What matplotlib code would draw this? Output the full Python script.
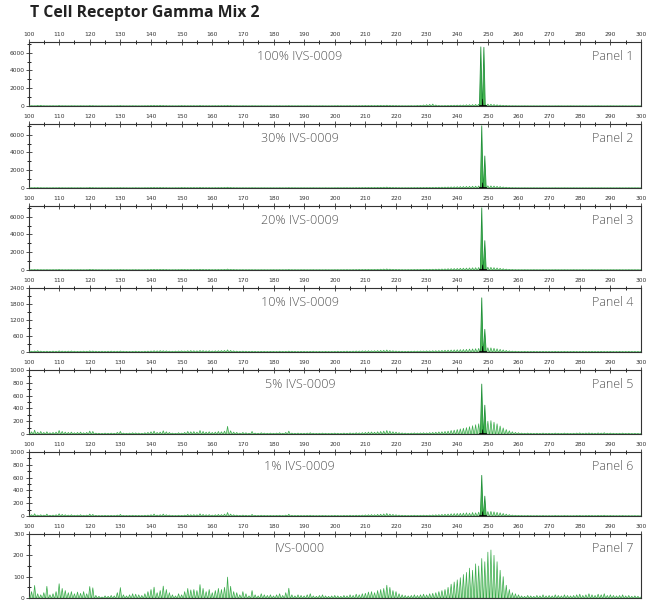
import numpy as np
import matplotlib.pyplot as plt
from matplotlib.ticker import MultipleLocator

title = "T Cell Receptor Gamma Mix 2"
samples = ["100% IVS-0009", "30% IVS-0009", "20% IVS-0009", "10% IVS-0009",
           "5% IVS-0009", "1% IVS-0009", "IVS-0000"]
panel_names = ["Panel 1", "Panel 2", "Panel 3", "Panel 4", "Panel 5", "Panel 6", "Panel 7"]

# y range and tick steps (RFU) of each panel
y_max = [7200, 7200, 7200, 2400, 1000, 1000, 300]
y_major = [2000, 2000, 2000, 600, 200, 200, 100]
y_minor = [1000, 1000, 1000, 300, 100, 100, 50]

# clonal peaks: size (bp) and height (RFU)
clone_pos = [[247.7, 248.7], [248.0, 249.0], [248.0, 249.0], [248.0, 249.0],
             [248.0, 249.0], [248.0, 249.0], []]
clone_height = [[6650, 6600], [7000, 3600], [7000, 3300], [2030, 850],
                [780, 450], [635, 310], []]
# black size-marker trace at the clonal peak base
marker_pos = 248.3
marker_height = [800, 600, 600, 220, 70, 70, 0]

# background peaks, one value per bp from 100 to 300
sizes = np.arange(100, 301)

bg_1 = [40, 30, 20, 60, 80, 30, 20, 25, 30, 20, 60, 30, 25, 20, 30, 25, 20, 30, 25, 20,
        50, 40, 20, 15, 20, 15, 20, 25, 20, 30, 50, 25, 20, 25, 30, 25, 20, 25, 30, 40,
        60, 70, 50, 80, 60, 40, 30, 25, 20, 30, 50, 40, 30, 35, 40, 30, 60, 40, 30, 35,
        30, 35, 40, 45, 50, 70, 50, 30, 25, 20, 30, 25, 20, 30, 25, 20, 25, 20, 20, 25,
        20, 25, 30, 20, 25, 40, 25, 20, 25, 20, 20, 25, 30, 20, 20, 25, 30, 20, 20, 25,
        30, 40, 30, 25, 30, 40, 30, 35, 40, 50, 60, 55, 60, 50, 70, 80, 70, 90, 70, 60,
        50, 40, 30, 25, 30, 40, 30, 60, 80, 120, 150, 180, 220, 120, 60, 40, 50, 60, 80, 90,
        100, 110, 120, 140, 150, 160, 180, 200, 200, 200, 220, 200, 170, 140, 110, 80, 60, 40, 30, 25,
        20, 20, 25, 20, 15, 20, 15, 20, 25, 20, 20, 15, 20, 25, 20, 15, 20, 25, 20, 15,
        20, 25, 20, 15, 20, 25, 30, 20, 15, 20, 25, 20, 15, 20, 25, 20, 15, 20, 25, 20, 15]

bg_2 = [30, 25, 40, 50, 30, 20, 25, 20, 30, 25, 40, 30, 20, 25, 30, 20, 25, 30, 20, 25,
        60, 40, 25, 20, 25, 20, 25, 30, 25, 30, 40, 30, 25, 20, 25, 30, 25, 20, 30, 35,
        50, 60, 45, 60, 50, 40, 30, 25, 30, 35, 60, 50, 40, 45, 50, 40, 70, 50, 40, 45,
        35, 40, 45, 50, 60, 90, 60, 40, 30, 25, 30, 25, 25, 30, 25, 20, 25, 25, 20, 25,
        25, 20, 30, 25, 25, 40, 30, 25, 20, 25, 25, 20, 25, 30, 20, 25, 20, 25, 20, 20,
        25, 30, 25, 30, 35, 30, 35, 40, 45, 50, 55, 60, 55, 60, 70, 80, 90, 110, 80, 60,
        50, 40, 35, 30, 35, 40, 45, 50, 55, 60, 65, 70, 75, 80, 90, 100, 110, 120, 130, 140,
        150, 160, 170, 180, 190, 200, 210, 230, 240, 240, 250, 240, 220, 190, 160, 120, 90, 60, 40, 30,
        25, 20, 25, 20, 20, 25, 20, 20, 25, 20, 20, 20, 25, 20, 20, 25, 20, 20, 25, 20,
        20, 25, 20, 20, 25, 20, 20, 25, 20, 20, 25, 20, 20, 25, 20, 20, 25, 20, 20, 20, 15]

bg_3 = [35, 30, 50, 45, 30, 25, 30, 25, 30, 30, 50, 35, 25, 30, 35, 25, 30, 35, 25, 30,
        70, 50, 30, 25, 30, 25, 30, 35, 30, 35, 50, 35, 30, 25, 30, 35, 30, 25, 35, 40,
        60, 70, 55, 70, 60, 50, 35, 30, 35, 40, 70, 60, 50, 55, 60, 50, 80, 60, 50, 55,
        40, 45, 50, 55, 70, 110, 70, 50, 35, 30, 35, 30, 30, 35, 30, 25, 30, 30, 25, 30,
        30, 25, 35, 30, 30, 50, 35, 30, 25, 30, 30, 25, 30, 35, 25, 30, 25, 30, 25, 25,
        30, 35, 30, 35, 40, 35, 40, 45, 55, 60, 65, 70, 65, 70, 80, 95, 110, 130, 100, 70,
        60, 50, 40, 35, 40, 45, 55, 60, 65, 70, 80, 85, 90, 100, 110, 120, 130, 150, 160, 170,
        180, 200, 210, 220, 240, 250, 260, 280, 300, 300, 310, 300, 270, 230, 190, 150, 110, 70, 50, 35,
        30, 25, 30, 25, 25, 30, 25, 25, 30, 25, 25, 25, 30, 25, 25, 30, 25, 25, 30, 25,
        25, 30, 25, 25, 30, 25, 25, 30, 25, 25, 30, 25, 25, 30, 25, 25, 30, 25, 25, 25, 20]

bg_4 = [25, 30, 40, 50, 35, 25, 30, 25, 35, 30, 45, 35, 30, 35, 40, 30, 25, 30, 35, 30,
        45, 40, 30, 25, 30, 25, 30, 35, 30, 30, 40, 30, 25, 20, 25, 30, 25, 20, 30, 35,
        40, 50, 45, 55, 50, 45, 35, 30, 35, 40, 45, 40, 50, 55, 50, 45, 60, 55, 45, 50,
        40, 45, 50, 55, 60, 80, 60, 45, 35, 30, 35, 30, 25, 30, 25, 20, 25, 25, 20, 25,
        25, 20, 30, 25, 25, 35, 30, 25, 20, 25, 25, 20, 25, 30, 20, 25, 20, 25, 20, 20,
        25, 30, 25, 30, 35, 30, 35, 40, 40, 45, 45, 50, 45, 50, 55, 60, 65, 75, 60, 50,
        40, 35, 30, 25, 30, 30, 35, 35, 40, 40, 45, 45, 50, 50, 55, 60, 65, 70, 75, 80,
        85, 90, 95, 100, 110, 115, 125, 135, 140, 145, 160, 155, 140, 120, 100, 80, 60, 45, 35, 30,
        25, 20, 25, 20, 20, 25, 20, 20, 25, 20, 20, 20, 25, 20, 20, 25, 20, 20, 25, 20,
        20, 25, 20, 20, 25, 20, 20, 25, 20, 20, 25, 20, 20, 25, 20, 20, 25, 20, 20, 20, 15]

bg_5 = [20, 35, 60, 30, 40, 25, 35, 20, 25, 30, 55, 40, 30, 25, 30, 20, 25, 30, 20, 25,
        45, 40, 15, 12, 10, 15, 12, 15, 12, 25, 40, 15, 12, 15, 20, 18, 15, 12, 20, 25,
        35, 45, 25, 30, 50, 35, 25, 15, 12, 20, 15, 25, 40, 35, 38, 30, 55, 40, 30, 35,
        25, 30, 40, 35, 45, 120, 50, 30, 25, 15, 25, 20, 12, 40, 15, 12, 20, 15, 12, 15,
        12, 15, 20, 12, 25, 45, 15, 12, 15, 12, 12, 15, 20, 12, 10, 12, 15, 12, 10, 12,
        15, 12, 10, 15, 12, 18, 15, 20, 18, 22, 25, 30, 32, 28, 35, 40, 45, 55, 45, 35,
        30, 22, 18, 15, 12, 15, 18, 15, 18, 20, 18, 22, 25, 28, 32, 35, 40, 45, 55, 60,
        70, 80, 90, 100, 115, 130, 145, 160, 170, 180, 200, 210, 185, 160, 125, 95, 70, 50, 35, 25,
        20, 15, 12, 15, 12, 10, 12, 10, 15, 10, 12, 10, 15, 12, 10, 15, 12, 10, 12, 15,
        18, 12, 15, 18, 15, 12, 18, 15, 20, 12, 15, 12, 10, 12, 15, 10, 12, 8, 10, 8, 5]

bg_6 = [12, 20, 35, 15, 20, 15, 30, 12, 15, 20, 35, 25, 20, 15, 20, 12, 15, 20, 12, 15,
        30, 25, 10, 8, 8, 10, 8, 10, 8, 15, 25, 10, 8, 10, 12, 10, 10, 8, 12, 15,
        20, 30, 15, 20, 30, 20, 15, 10, 8, 12, 10, 15, 25, 20, 22, 20, 35, 25, 20, 22,
        15, 20, 25, 22, 30, 55, 30, 20, 15, 10, 15, 12, 8, 25, 10, 8, 12, 10, 8, 10,
        8, 10, 12, 8, 15, 28, 10, 8, 10, 8, 8, 10, 12, 8, 6, 8, 10, 8, 6, 8,
        10, 8, 6, 10, 8, 12, 10, 12, 12, 15, 18, 20, 22, 20, 25, 28, 32, 40, 30, 25,
        20, 15, 12, 10, 8, 10, 12, 10, 12, 14, 12, 15, 18, 20, 22, 25, 28, 30, 35, 38,
        40, 42, 45, 50, 45, 55, 50, 60, 65, 62, 70, 72, 65, 58, 50, 40, 30, 22, 15, 12,
        10, 8, 6, 8, 6, 5, 6, 5, 8, 5, 6, 5, 8, 6, 5, 8, 6, 5, 6, 8,
        10, 6, 8, 10, 8, 6, 10, 8, 12, 6, 8, 6, 5, 6, 8, 5, 6, 4, 5, 4, 3]

bg_7 = [10, 30, 59, 20, 15, 25, 55, 15, 20, 30, 67, 45, 35, 25, 30, 20, 28, 22, 30, 20,
        54, 48, 12, 8, 5, 10, 8, 12, 10, 25, 49, 15, 10, 15, 20, 18, 15, 12, 20, 30,
        40, 51, 25, 35, 56, 40, 25, 15, 10, 20, 15, 30, 45, 38, 40, 35, 63, 45, 30, 40,
        25, 35, 45, 40, 50, 98, 55, 30, 25, 15, 30, 20, 10, 35, 15, 10, 20, 15, 12, 15,
        10, 15, 20, 12, 25, 46, 15, 10, 15, 12, 10, 15, 20, 10, 8, 12, 15, 10, 8, 10,
        12, 10, 8, 12, 10, 15, 12, 18, 15, 20, 22, 28, 30, 25, 35, 40, 45, 60, 50, 35,
        30, 20, 15, 12, 10, 12, 15, 12, 15, 18, 15, 20, 22, 25, 30, 35, 40, 50, 65, 75,
        85, 95, 110, 120, 140, 130, 160, 150, 185, 170, 215, 225, 200, 170, 130, 100, 60, 40, 25, 20,
        15, 10, 8, 12, 10, 8, 12, 10, 15, 10, 12, 10, 15, 12, 10, 15, 12, 10, 12, 15,
        18, 12, 15, 20, 15, 12, 18, 15, 20, 12, 15, 12, 10, 12, 15, 10, 12, 8, 10, 8, 5]

backgrounds = [bg_1, bg_2, bg_3, bg_4, bg_5, bg_6, bg_7]


def spikes(pos, h, half=0.45):
    pos = np.asarray(pos, float)
    h = np.asarray(h, float)
    zero = np.zeros_like(h)
    x = np.column_stack([pos - half, pos, pos + half]).ravel()
    y = np.column_stack([zero, h, zero]).ravel()
    return x, y


fig = plt.figure(figsize=(6.5, 6.01), dpi=100)
W, H = 650, 601
left, width = 28.5 / W, 612.5 / W

fig.text(30 / W, 1 - 13 / H, title, fontsize=11.3, fontweight="bold",
         family=["Open Sans", "DejaVu Sans"], va="center", ha="left", color="#222222")

for i in range(7):
    top_px = 42 + 82 * i
    ax = fig.add_axes([left, 1 - (top_px + 64) / H, width, 64 / H])

    # polyclonal background
    x, y = spikes(sizes, backgrounds[i], half=0.42)
    ax.fill(x, y, color="#bde7bd", lw=0, zorder=2)
    ax.plot(x, y, color="#3aab4c", lw=0.5, zorder=3)

    # clonal peaks
    if clone_pos[i]:
        x, y = spikes(clone_pos[i], clone_height[i])
        ax.fill(x, y, color="#4cbb55", lw=0, zorder=4)
        ax.plot(x, y, color="#22913a", lw=0.6, zorder=5)
    if marker_height[i]:
        x, y = spikes([marker_pos], [marker_height[i]], half=0.12)
        ax.fill(x, y, color="black", lw=0.4, zorder=6)
        ax.plot([marker_pos - 0.9, marker_pos + 1.1], [0, 0], color="black", lw=1.2, zorder=6)

    ax.plot([100, 300], [0, 0], color="#1f7a30", lw=0.9, zorder=3)

    ax.set_xlim(100, 300)
    ax.set_ylim(0, y_max[i])
    ax.xaxis.tick_top()
    ax.xaxis.set_major_locator(MultipleLocator(10))
    ax.xaxis.set_minor_locator(MultipleLocator(5))
    ax.yaxis.set_major_locator(MultipleLocator(y_major[i]))
    ax.yaxis.set_minor_locator(MultipleLocator(y_minor[i]))
    ax.tick_params(axis="x", which="major", direction="inout", length=5, width=0.6,
                   labelsize=4.3, pad=1, colors="#333333")
    ax.tick_params(axis="x", which="minor", direction="inout", length=3.5, width=0.6)
    ax.tick_params(axis="y", which="major", direction="inout", length=4, width=0.6,
                   labelsize=4.3, pad=1, colors="#333333")
    ax.tick_params(axis="y", which="minor", direction="inout", length=3, width=0.6)
    for s in ax.spines.values():
        s.set_linewidth(0.8)
        s.set_color("#333333")

    ax.text(0.443, 0.77, samples[i], transform=ax.transAxes, ha="center", va="center",
            fontsize=9, color="#555555", family=["Open Sans", "DejaVu Sans"], fontweight="light")
    ax.text(0.988, 0.77, panel_names[i], transform=ax.transAxes, ha="right", va="center",
            fontsize=9, color="#555555", family=["Open Sans", "DejaVu Sans"], fontweight="light")

fig.savefig("out.png", dpi=100)
